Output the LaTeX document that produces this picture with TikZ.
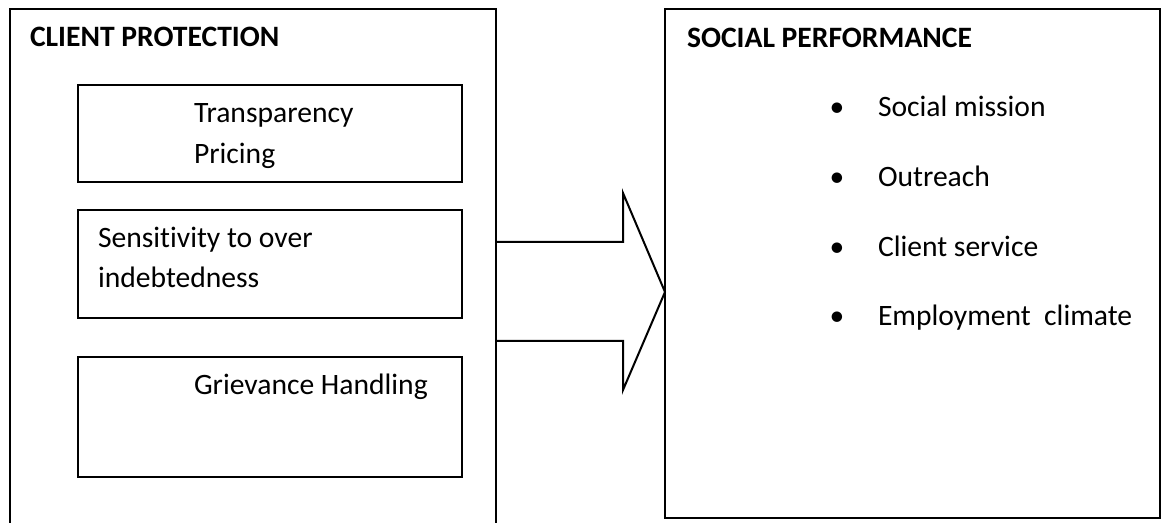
\documentclass[tikz,border=0pt]{standalone}
\usepackage{fontspec}
\setmainfont{Carlito}[Ligatures=NoCommon]
\usepackage{tikz}
\usetikzlibrary{positioning,calc}

\begin{document}
\begin{tikzpicture}[
    x=0.5pt,
    y=-0.5pt,
    font=\fontsize{14.8}{20}\selectfont,
    line width=1pt,
    panel/.style={draw, inner sep=0pt, outer sep=0pt, anchor=north west},
    itembox/.style={draw, inner sep=0pt, outer sep=0pt, anchor=north west, minimum width=192pt},
    txt/.style={anchor=base west, inner sep=0pt, outer sep=0pt},
    headtxt/.style={txt, font=\fontsize{14.8}{20}\selectfont\bfseries}
]
\clip (0,0) rectangle (1162,523);

% Panels.
\node[panel, minimum width=243pt, minimum height=270pt] (cp) at (10,9.5) {};
\node[panel, minimum width=247.5pt, minimum height=254.25pt] (sp) at (665,9.5) {};
\node[headtxt] (cp_title) at (30,47) {CLIENT PROTECTION};
\node[headtxt] (sp_title) at (687,48) {SOCIAL PERFORMANCE};

% Client protection items.
\node[itembox, minimum height=48.5pt] (transp) at (78,85) {};
\node[itembox, minimum height=54pt] (sensit) at (78,210) {};
\node[itembox, minimum height=60pt] (griev) at (78,357) {};
\node[txt] (transp_a) at (194,123) {Transparency};
\node[txt] (transp_b) at (194,164) {Pricing};
\node[txt] (sensit_a) at (98,248) {Sensitivity to over};
\node[txt] (sensit_b) at (98,288) {indebtedness};
\node[txt] (griev_a) at (194,395) {Grievance Handling};

% Social performance items.
\node[txt] (mission) at (837,117) {\makebox[0pt][c]{•}\hspace{20.5pt}Social mission};
\node[txt] (outreach) at (837,187) {\makebox[0pt][c]{•}\hspace{20.5pt}Outreach};
\node[txt] (service) at (837,257) {\makebox[0pt][c]{•}\hspace{20.5pt}Client service};
\node[txt] (climate) at (837,326) {\makebox[0pt][c]{•}\hspace{20.5pt}Employment~ climate};

% Block arrow.
\draw (cp.east |- 0,242) -- (623,242) -- (623,193) -- (sp.west |- 0,292)
      -- (623,390) -- (623,341) -- (cp.east |- 0,341);

\end{tikzpicture}
\end{document}
